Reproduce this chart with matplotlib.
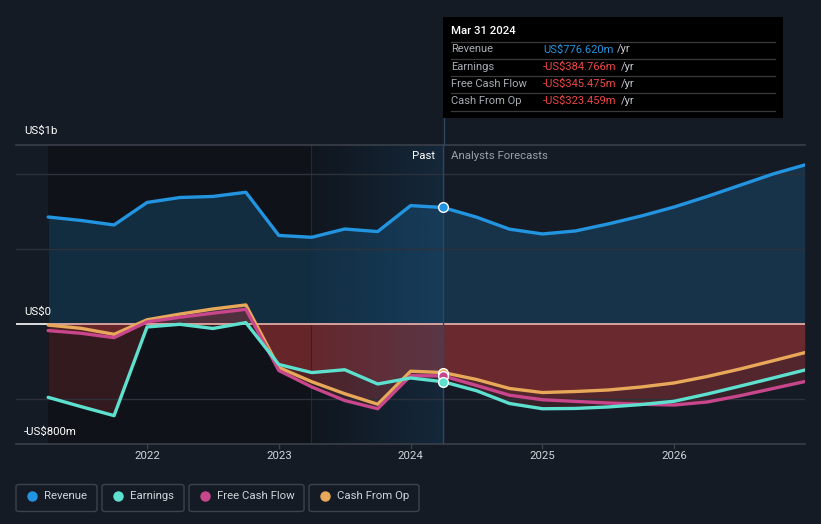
import numpy as np
import matplotlib
matplotlib.use("Agg")
import matplotlib.pyplot as plt
from matplotlib.patches import Rectangle, FancyBboxPatch
from matplotlib.lines import Line2D

plt.rcParams['font.family'] = ['Roboto', 'DejaVu Sans']

# ---------------- data (US$ billions, decimal years) ----------------
years = [2021.25, 2021.5, 2021.75, 2022.0, 2022.25, 2022.5, 2022.75, 2023.0,
         2023.25, 2023.5, 2023.75, 2024.0, 2024.245,
         2024.5, 2024.75, 2025.0, 2025.25, 2025.5, 2025.75, 2026.0,
         2026.25, 2026.5, 2026.75, 2026.99]
revenue = [0.713, 0.69, 0.66, 0.81, 0.843, 0.85, 0.878, 0.59,
           0.578, 0.633, 0.616, 0.789, 0.7766,
           0.712, 0.632, 0.60, 0.62, 0.667, 0.72, 0.78,
           0.85, 0.925, 1.0, 1.06]
earnings = [-0.489, -0.551, -0.611, -0.02, -0.002, -0.03, 0.009, -0.27,
            -0.324, -0.305, -0.40, -0.36, -0.3848,
            -0.445, -0.53, -0.565, -0.563, -0.553, -0.537, -0.515,
            -0.467, -0.414, -0.36, -0.307]
fcf = [-0.044, -0.062, -0.091, 0.014, 0.045, 0.072, 0.098, -0.31,
       -0.42, -0.51, -0.565, -0.345, -0.3455,
       -0.41, -0.475, -0.505, -0.516, -0.527, -0.535, -0.54,
       -0.52, -0.478, -0.43, -0.384]
cfo = [-0.007, -0.029, -0.069, 0.028, 0.066, 0.10, 0.127, -0.29,
       -0.385, -0.465, -0.535, -0.315, -0.3235,
       -0.37, -0.43, -0.457, -0.45, -0.44, -0.42, -0.393,
       -0.35, -0.30, -0.245, -0.191]

x_ticks = [2022, 2023, 2024, 2025, 2026]
x_tick_labels = ["2022", "2023", "2024", "2025", "2026"]
y_labels = ["US$1b", "US$0", "-US$800m"]
series_names = ["Revenue", "Earnings", "Free Cash Flow", "Cash From Op"]
tooltip_date = "Mar 31 2024"
tooltip_values = ["US$776.620m", "-US$384.766m", "-US$345.475m", "-US$323.459m"]

now_x = 2024.245
past_shade_start = 2023.245

# ---------------- style ----------------
BG = "#151b25"
DARK = "#0f1319"
C_REV = "#2394df"
C_EARN = "#5ee0cf"
C_FCF = "#c8468c"
C_CFO = "#e8a85a"
C_RED = "#c43a3a"
GRID = "#2c313a"

W, H = 821, 524
fig = plt.figure(figsize=(W / 100, H / 100), dpi=100, facecolor=BG)


def fx(x):
    return x / W


def fy(y):
    return 1 - y / H


ax = fig.add_axes([fx(16), fy(444), (805 - 16) / W, (444 - 145) / H])
ax.set_facecolor(BG)
x0, x1 = 2021.006, 2026.992
y0, y1 = -0.8, 1.193
ax.set_xlim(x0, x1)
ax.set_ylim(y0, y1)
for s in ax.spines.values():
    s.set_visible(False)
ax.set_yticks([])
ax.set_xticks([])

yrs = np.array(years)
# dark past area
ax.axvspan(years[0], now_x, color=DARK, zorder=0, lw=0)

# revenue fill
ax.fill_between(yrs, revenue, 0, color=C_REV, alpha=0.2, lw=0, zorder=1)
# negative fills
for v in (earnings, fcf, cfo):
    ax.fill_between(yrs, v, 0, color=C_RED, alpha=0.2, lw=0, zorder=1)

# blue highlight gradient
grad = np.zeros((2, 256, 4))
c = matplotlib.colors.to_rgb("#2a7cc0")
grad[..., 0], grad[..., 1], grad[..., 2] = c
grad[..., 3] = np.linspace(0.03, 0.2, 256)[None, :]
ax.imshow(grad, extent=[past_shade_start, now_x, y0, y1], aspect='auto',
          zorder=2, interpolation='bilinear')
ax.axvline(past_shade_start, color="#1c2c3d", lw=0.8, zorder=2)

# grid
for gy in (1.0, 0.5, -0.5):
    ax.axhline(gy, color=GRID, lw=1, zorder=2.5)
ax.axhline(y1, color="#3a3f48", lw=1.2, zorder=2.5, clip_on=False)
ax.axhline(y0, color="#3a3f48", lw=1.2, zorder=2.5, clip_on=False)

# zero line
ax.plot([x0, years[0]], [0, 0], color="white", lw=1.2, zorder=3)
ax.plot([years[0], x1], [0, 0], color="#f2b5ae", lw=1.2, zorder=3)

# lines
lw = 2.4
ax.plot(yrs, revenue, color=C_REV, lw=lw, zorder=5, solid_capstyle='round', solid_joinstyle='round')
ax.plot(yrs, cfo, color=C_CFO, lw=lw, zorder=5, solid_capstyle='round', solid_joinstyle='round')
ax.plot(yrs, fcf, color=C_FCF, lw=lw, zorder=5.1, solid_capstyle='round', solid_joinstyle='round')
ax.plot(yrs, earnings, color=C_EARN, lw=lw, zorder=5.2, solid_capstyle='round', solid_joinstyle='round')

# now vertical line
ax.axvline(now_x, color="#2b4763", lw=1, zorder=4)

# markers
i_now = years.index(now_x)
for v, col in ((revenue, C_REV), (cfo, C_CFO), (fcf, C_FCF), (earnings, C_EARN)):
    ax.plot([now_x], [v[i_now]], 'o', ms=7, mfc=col, mec="white", mew=1.0, zorder=6)

# x ticks
for t, lab in zip(x_ticks, x_tick_labels):
    ax.plot([t, t], [y0, y0 - 0.025], color="#3a3f48", lw=1, clip_on=False, zorder=3)
    ax.text(t, y0 - 0.08, lab, color="#d0d4da", fontsize=8.2, ha='center', va='center')

# y labels
for lab, yy in zip(y_labels, (131, 312, 432)):
    fig.text(fx(24), fy(yy), lab, color="white", fontsize=8.2, ha='left', va='center')

# Past / forecasts
fig.text(fx(435), fy(156), "Past", color="white", fontsize=8.2, ha='right', va='center')
fig.text(fx(451), fy(156), "Analysts Forecasts", color="#9aa0a8", fontsize=8.2, ha='left', va='center')

# vertical line above the plot to tooltip
fig.add_artist(Line2D([fx(443.5), fx(443.5)], [fy(145), fy(118)], color="#2b4763", lw=1))

# tooltip
fig.add_artist(Rectangle((fx(443), fy(118)), (783 - 443) / W, (118 - 17) / H,
                         facecolor="black", edgecolor="none"))
fig.text(fx(451), fy(31), tooltip_date, color="white", fontsize=8.2, ha='left', va='center',
         fontweight='medium')
for yy in (41.5, 58.5, 76, 93.3, 110.5):
    fig.add_artist(Line2D([fx(451), fx(775)], [fy(yy), fy(yy)], color="#3a3a3a", lw=0.9))
row_y = [49.5, 66.5, 84, 101]
val_cols = [C_REV, "#f04646", "#f04646", "#f04646"]
renderer = fig.canvas.get_renderer()
for name, val, col, yy in zip(series_names, tooltip_values, val_cols, row_y):
    fig.text(fx(451), fy(yy), name, color="#a8adb4", fontsize=8.0, ha='left', va='center')
    t = fig.text(fx(543), fy(yy), val, color=col, fontsize=8.0, ha='left', va='center')
    bb = t.get_window_extent(renderer=renderer)
    fig.text(fx(bb.x1 + 4), fy(yy), "/yr", color="#c8ccd2", fontsize=8.0, ha='left', va='center')

# legend
boxes = [(16, 97), (102, 184), (189, 304), (309, 419)]
dot_x = [32, 118, 205, 325]
txt_x = [44, 130, 217, 337]
cols = [C_REV, C_EARN, C_FCF, C_CFO]
for (bx0, bx1), dx, tx, col, name in zip(boxes, dot_x, txt_x, cols, series_names):
    fig.add_artist(FancyBboxPatch((fx(bx0), fy(511.5)), (bx1 - bx0) / W, (511.5 - 484.5) / H,
                                  boxstyle="round,pad=0,rounding_size=0.004",
                                  facecolor="none", edgecolor="#3d424b", lw=1))
    fig.add_artist(Line2D([fx(dx)], [fy(496)], marker='o', ms=6.5, mfc=col, mec=col, lw=0))
    fig.text(fx(tx), fy(496), name, color="#d0d4da", fontsize=8.2, ha='left', va='center')

fig.savefig("out.png", dpi=100, facecolor=BG)
